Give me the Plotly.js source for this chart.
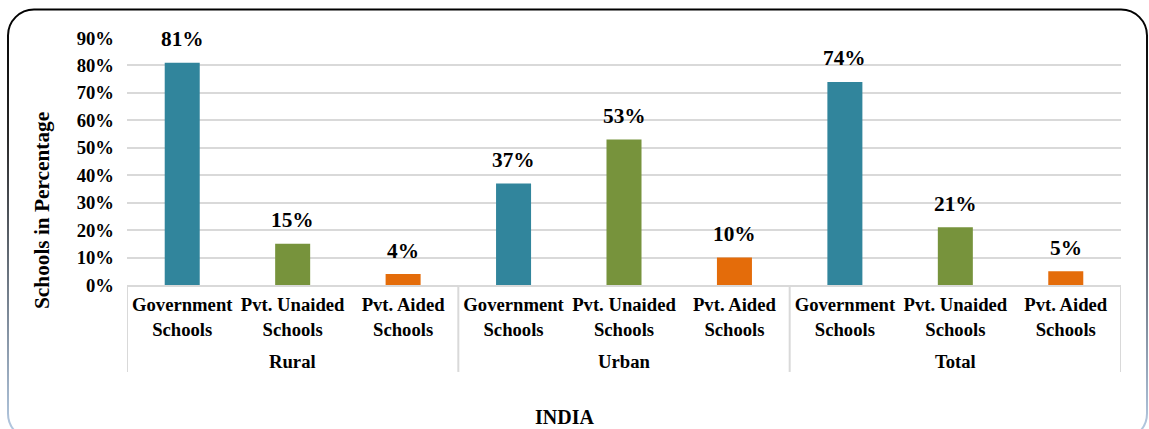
<!DOCTYPE html>
<html>
<head>
<meta charset="utf-8">
<script src="https://cdn.plot.ly/plotly-3.0.1.min.js"></script>
<style>
  html, body { margin: 0; padding: 0; background: #ffffff; }
  #wrap { position: relative; width: 1149px; height: 429px; overflow: hidden; }
  #frame { position: absolute; left: 0; top: 0; }
  #chart { position: absolute; left: 0; top: 0; width: 1149px; height: 429px; }
</style>
</head>
<body>
<div id="wrap">
  <!-- rounded chart-area outline, dark at the top fading to pale blue -->
  <svg id="frame" width="1149" height="429">
    <defs>
      <linearGradient id="edge" x1="0" y1="0" x2="0" y2="1">
        <stop offset="0" stop-color="#000000"/>
        <stop offset="0.3" stop-color="#2a2a2a"/>
        <stop offset="1" stop-color="#b7cde6"/>
      </linearGradient>
    </defs>
    <rect x="8" y="9.5" width="1139" height="430" rx="26" ry="26"
          fill="none" stroke="url(#edge)" stroke-width="2"/>
  </svg>
  <div id="chart"></div>
</div>
<script>
// Share of schools by management type, India
const regions = ['Rural', 'Urban', 'Total'];
const schoolTypes = ['Government<br>Schools', 'Pvt. Unaided<br>Schools', 'Pvt. Aided<br>Schools'];
const governmentPct = [81, 37, 74];
const pvtUnaidedPct = [15, 53, 21];
const pvtAidedPct = [4, 10, 5];
const yTickVals = [0, 10, 20, 30, 40, 50, 60, 70, 80, 90];
const yTickText = yTickVals.map(v => v + '%');
const yAxisTitle = 'Schools in Percentage';
const xAxisTitle = 'INDIA';

const seriesValues = [governmentPct, pvtUnaidedPct, pvtAidedPct];
const seriesColors = ['#31859C', '#77933C', '#E46C0A'];

const FONT = '"Liberation Serif", "Times New Roman", Times, serif';
const TICK_SIZE = 18.67;   // 14pt
const LABEL_SIZE = 21.3;   // 16pt
const nTypes = schoolTypes.length;

// slot index for region r, school type k
const slot = (r, k) => r * nTypes + k;

const traces = seriesValues.map((vals, k) => ({
  type: 'bar',
  x: regions.map((_, r) => slot(r, k)),
  y: vals,
  width: 0.317,
  marker: { color: seriesColors[k], line: { width: 0 } },
  hoverinfo: 'skip',
  showlegend: false
}));

const tickVals = [];
const tickText = [];
regions.forEach((_, r) => schoolTypes.forEach((t, k) => {
  tickVals.push(slot(r, k));
  tickText.push(t);
}));

const annotations = [];
// value labels above each bar
seriesValues.forEach((vals, k) => vals.forEach((v, r) => {
  annotations.push({
    x: slot(r, k), y: v, xref: 'x', yref: 'y',
    text: v + '%', showarrow: false,
    xanchor: 'center', yanchor: 'middle', yshift: 23.5,
    font: { family: FONT, size: LABEL_SIZE, color: '#000', weight: 'bold' }
  });
}));
// outer category labels
regions.forEach((name, r) => {
  annotations.push({
    x: slot(r, 1), y: -0.3077, xref: 'x', yref: 'paper',
    text: name, showarrow: false, xanchor: 'center', yanchor: 'middle',
    font: { family: FONT, size: TICK_SIZE, color: '#000', weight: 'bold' }
  });
});
// axis titles
annotations.push({
  x: -0.0855, y: 0.2996, xref: 'paper', yref: 'paper',
  text: yAxisTitle, textangle: -90, showarrow: false,
  xanchor: 'center', yanchor: 'middle',
  font: { family: FONT, size: LABEL_SIZE, color: '#000', weight: 'bold' }
});
annotations.push({
  x: 0.4406, y: -0.534, xref: 'paper', yref: 'paper',
  text: xAxisTitle, showarrow: false, xanchor: 'center', yanchor: 'middle',
  font: { family: FONT, size: 20, color: '#000', weight: 'bold' }
});

// group dividers below the axis
const shapes = [];
for (let r = 0; r <= regions.length; r++) {
  shapes.push({
    type: 'line', xref: 'x', yref: 'paper',
    x0: r * nTypes - 0.5, x1: r * nTypes - 0.5, y0: 0, y1: -0.352,
    line: { color: '#d9d9d9', width: 2 }
  });
}

const layout = {
  width: 1149, height: 429,
  margin: { l: 127, r: 28, t: 38, b: 144, pad: 0 },
  paper_bgcolor: 'rgba(0,0,0,0)',
  plot_bgcolor: 'rgba(0,0,0,0)',
  font: { family: FONT, size: TICK_SIZE, color: '#000' },
  barmode: 'overlay',
  xaxis: {
    type: 'linear', range: [-0.5, regions.length * nTypes - 0.5],
    tickmode: 'array', tickvals: tickVals, ticktext: tickText,
    ticks: '', showgrid: false, zeroline: false,
    showline: true, linecolor: '#d9d9d9', linewidth: 2,
    tickfont: { family: FONT, size: TICK_SIZE, color: '#000', weight: 'bold' },
    ticklabelstandoff: 2, fixedrange: true
  },
  yaxis: {
    range: [0, 90], tickmode: 'array', tickvals: yTickVals, ticktext: yTickText,
    ticks: '', showline: false, zeroline: false,
    showgrid: true, gridcolor: '#d9d9d9', gridwidth: 2,
    tickfont: { family: FONT, size: TICK_SIZE, color: '#000', weight: 'bold' },
    ticklabelstandoff: 12, fixedrange: true
  },
  annotations: annotations,
  shapes: shapes
};

Plotly.newPlot('chart', traces, layout, { displayModeBar: false, staticPlot: true });
</script>
</body>
</html>
